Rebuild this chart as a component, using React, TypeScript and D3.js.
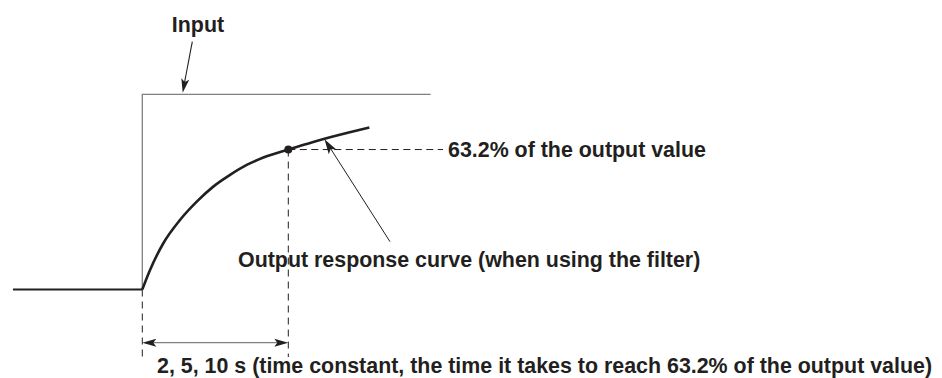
import React from "react";
import * as d3 from "d3";

// Step response of the filter (time in units of the time constant, value as fraction of output)
const curveT = [0, 0.053, 0.144, 0.258, 0.373, 0.486, 0.601, 0.715, 0.829, 1.0, 1.171, 1.286, 1.4, 1.555];
const curveV = [0, 0.1, 0.237, 0.356, 0.45, 0.527, 0.587, 0.638, 0.676, 0.717, 0.756, 0.78, 0.802, 0.83];
const inputT = [0, 0, 1.975];
const inputV = [0, 1, 1];
const baseT = [-0.886, 0];
const baseV = [0, 0];
const tauT = 1;
const tauV = 0.717;

const labelInput = "Input";
const labelLevel = "63.2% of the output value";
const labelCurve = "Output response curve (when using the filter)";
const labelTau = "2, 5, 10 s (time constant, the time it takes to reach 63.2% of the output value)";

const W = 942;
const H = 378;

function arrowHead(tipX: number, tipY: number, fromX: number, fromY: number, L = 13, hw = 4, notch = 3) {
  const dx = tipX - fromX;
  const dy = tipY - fromY;
  const len = Math.hypot(dx, dy);
  const ux = dx / len;
  const uy = dy / len;
  const px = -uy;
  const py = ux;
  const bx = tipX - ux * L;
  const by = tipY - uy * L;
  const nx = tipX - ux * (L - notch);
  const ny = tipY - uy * (L - notch);
  return `M${tipX},${tipY}L${bx + px * hw},${by + py * hw}L${nx},${ny}L${bx - px * hw},${by - py * hw}Z`;
}

export default function App() {
  const x = d3.scaleLinear().domain([0, 1]).range([142.3, 288.3]);
  const y = d3.scaleLinear().domain([0, 1]).range([289.5, 94.3]);

  const curvePts: [number, number][] = curveT.map((t, i) => [t, curveV[i]]);
  const line = d3
    .line<[number, number]>()
    .x((d) => x(d[0]))
    .y((d) => y(d[1]))
    .curve(d3.curveMonotoneX);
  const straight = d3
    .line<[number, number]>()
    .x((d) => x(d[0]))
    .y((d) => y(d[1]));

  const inputPts: [number, number][] = inputT.map((t, i) => [t, inputV[i]]);
  const basePts: [number, number][] = baseT.map((t, i) => [t, baseV[i]]);

  const dashBottomV = -0.346;
  const arrowV = -0.2725;
  const levelEndT = 2.06;

  const font = "'Liberation Sans', Arial, Helvetica, sans-serif";
  const textStyle: React.CSSProperties = { fontFamily: font, fontWeight: 700, fontSize: 21.4 };
  const ink = "#231f20";

  const ax0 = x(0);
  const ax1 = x(tauT);
  const ay = y(arrowV);

  return (
    <svg width={W} height={H} style={{ position: "absolute", left: 0, top: 0 }}>
      <rect width={W} height={H} fill="#fff" />
      {/* input step */}
      <path d={straight(inputPts) || ""} fill="none" stroke="#808080" strokeWidth={1.3} />
      {/* dashed guides */}
      <line x1={x(0)} x2={x(0)} y1={y(0)} y2={y(dashBottomV)} stroke={ink} strokeWidth={1} strokeDasharray="7,5" />
      <line x1={x(tauT)} x2={x(tauT)} y1={y(tauV)} y2={y(dashBottomV)} stroke={ink} strokeWidth={1} strokeDasharray="7,5" />
      <line x1={x(tauT)} x2={x(levelEndT)} y1={y(tauV)} y2={y(tauV)} stroke={ink} strokeWidth={1} strokeDasharray="7,4.5" />
      {/* baseline */}
      <path d={straight(basePts) || ""} fill="none" stroke={ink} strokeWidth={2} />
      {/* response curve */}
      <path d={line(curvePts) || ""} fill="none" stroke={ink} strokeWidth={2.6} strokeLinecap="butt" />
      <circle cx={x(tauT)} cy={y(tauV)} r={4} fill={ink} />
      {/* time constant double arrow */}
      <line x1={ax0 + 6} x2={ax1 - 6} y1={ay} y2={ay} stroke="#808080" strokeWidth={1.3} />
      <path d={arrowHead(ax0, ay, ax1, ay, 14, 4, 3)} fill={ink} />
      <path d={arrowHead(ax1, ay, ax0, ay, 14, 4, 3)} fill={ink} />
      {/* input pointer */}
      <line x1={192.3} y1={41.7} x2={183.5} y2={88} stroke={ink} strokeWidth={1.1} />
      <path d={arrowHead(182.7, 92.7, 192.3, 41.7, 14, 4, 3)} fill={ink} />
      {/* curve pointer */}
      <line x1={390} y1={241.7} x2={327} y2={143} stroke={ink} strokeWidth={1} />
      <path d={arrowHead(324.5, 139.3, 390, 241.7, 15, 4.5, 3.5)} fill={ink} />
      {/* labels */}
      <text x={198} y={31.5} textAnchor="middle" fill={ink} style={textStyle}>
        {labelInput}
      </text>
      <text x={448} y={157} fill={ink} style={textStyle}>
        {labelLevel}
      </text>
      <text x={238} y={267} fill={ink} style={textStyle}>
        {labelCurve}
      </text>
      <text x={157} y={373} fill={ink} style={textStyle}>
        {labelTau}
      </text>
    </svg>
  );
}
